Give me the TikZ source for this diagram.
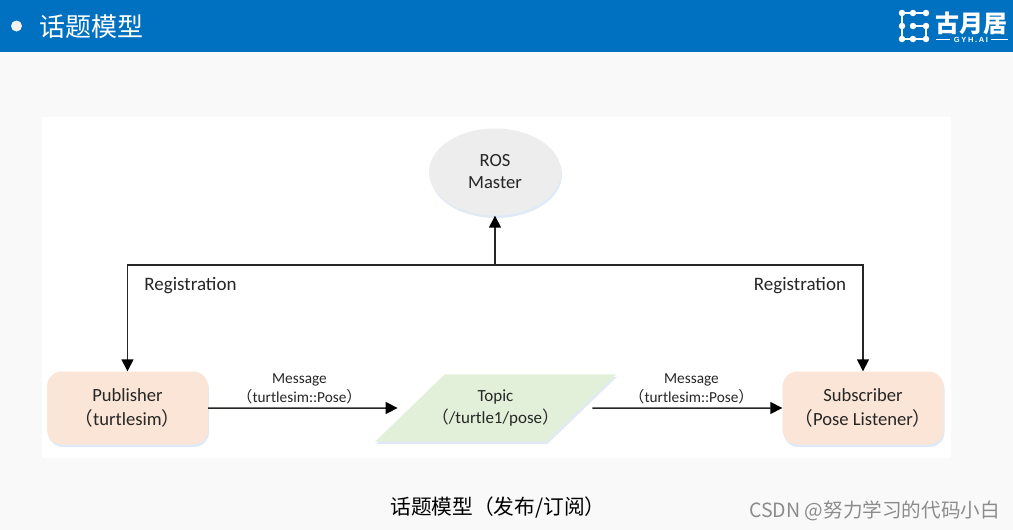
\documentclass[tikz,border=0pt]{standalone}
\usepackage{fontspec}
\setmainfont{Carlito}
\newfontfamily\cjk{Noto Sans CJK SC}
\newfontfamily\logofont[LetterSpace=22]{Liberation Sans}
\usetikzlibrary{shapes.geometric,shadows,arrows.meta}
\definecolor{barblue}{HTML}{0070C0}
\definecolor{pagebg}{HTML}{F9F9F9}
\definecolor{peach}{HTML}{FBE5D6}
\definecolor{leaf}{HTML}{E2F0D9}
\definecolor{mastergrey}{HTML}{EDEDED}
\definecolor{softblue}{HTML}{E0EAF6}
\definecolor{ink}{HTML}{262626}
\tikzset{
  softshadow/.style={drop shadow={shadow xshift=1pt,shadow yshift=-2.5pt,opacity=1,fill=softblue}},
  rolebox/.style={rounded corners=15pt,fill=peach,minimum width=161pt,minimum height=73pt,softshadow,
    align=center,font=\fontsize{18.6}{24}\selectfont,text=ink,inner sep=0pt},
  masternode/.style={ellipse,fill=mastergrey,minimum width=132pt,minimum height=87pt,softshadow,inner sep=0pt,
    align=center,font=\fontsize{18.6}{22}\selectfont,text=ink},
  topicnode/.style={trapezium,trapezium left angle=44,trapezium right angle=136,trapezium stretches body=true,
    fill=leaf,softshadow,inner xsep=-13pt,inner ysep=15.5pt,
    align=center,font=\fontsize{17}{22}\selectfont,text=ink},
  link/.style={draw=black!85,line width=1.5pt,-{Triangle[length=12pt,width=12pt,color=black]}},
  reglabel/.style={font=\fontsize{19}{22}\selectfont,text=ink,inner sep=0pt},
  msglabel/.style={align=center,font=\fontsize{15.3}{19}\selectfont,text=ink,inner sep=0pt},
  logodot/.style={circle,fill=white,minimum size=6.5pt,inner sep=0pt},
  logobar/.style={draw=white,line width=2.2pt}
}
\begin{document}
\begin{tikzpicture}[x=1pt,y=-1pt]
\useasboundingbox (0,0) rectangle (1013,530);
\fill[pagebg] (0,0) rectangle (1013,530);
\fill[barblue] (0,0) rectangle (1013,52);
\fill[white] (42,117) rectangle (951,458);
\fill[white!95!black] (16.5,26) circle (5.5pt);
\node[anchor=west,text=white,inner sep=0pt,font=\cjk\fontsize{26}{30}\selectfont] (title) at (39,27) {话题模型};
% logo
\node[logodot] (d1) at (902,13) {};
\node[logodot] (d2) at (913,13) {};
\node[logodot] (d3) at (926,13) {};
\node[logodot] (d4) at (902,26) {};
\node[logodot] (d5) at (913,26) {};
\node[logodot] (d6) at (926,26) {};
\node[logodot] (d7) at (902,39) {};
\node[logodot] (d8) at (913,39) {};
\node[logodot] (d9) at (926,39) {};
\draw[logobar] (d1) -- (d2) -- (d3);
\draw[logobar] (d1) -- (d7) -- (d9) -- (d6) -- (d5);
\node[text=white,inner sep=0pt,font=\cjk\bfseries\fontsize{24}{26}\selectfont] (logotext) at (971,23) {古月居};
\node[text=white,inner sep=0pt,font=\logofont\bfseries\fontsize{7.5}{8}\selectfont] (logosub) at (971,39.5) {GYH.AI};
\coordinate (logoa) at (936,39.5);
\coordinate (logob) at (1008,39.5);
\draw[white,line width=0.8pt] (logoa) -- ([xshift=-4pt]logosub.west);
\draw[white,line width=0.8pt] ([xshift=3pt]logosub.east) -- (logob);
% diagram
\node[masternode] (master) at (495,172) {ROS\\Master};
\node[rolebox] (pub) at (127.5,408) {\raisebox{-0.5pt}{Publisher}\\\raisebox{-0.5pt}{{\cjk（}turtlesim{\cjk）}}};
\node[rolebox] (sub) at (863,408) {\raisebox{-0.5pt}{Subscriber}\\\raisebox{-0.5pt}{{\cjk（}Pose Listener{\cjk）}}};
\node[topicnode] (topic) at (495.5,408) {Topic\\{\cjk（}/turtle1/pose{\cjk）}};
\coordinate (bus) at (495,265);
\draw[link] (bus) -- (master.south);
\draw[link] (bus) -| (pub.north);
\draw[link] (bus) -| (sub.north);
\draw[link,shorten >=12pt] (pub.east) -- (topic.west);
\draw[link,shorten <=11pt] (topic.east) -- (sub.west);
\node[reglabel] (regl) at (190.5,285.5) {Registration};
\node[reglabel] (regr) at (800,285.5) {Registration};
\node[msglabel] (msgl) at (299.5,389) {Message\\{\cjk（}turtlesim::Pose{\cjk）}};
\node[msglabel] (msgr) at (691.5,389) {Message\\{\cjk（}turtlesim::Pose{\cjk）}};
\node[inner sep=0pt,font=\cjk\fontsize{20.7}{24}\selectfont] (caption) at (498,507.5) {话题模型（发布/订阅）};
\node[anchor=east,inner sep=0pt,text=black!45,font=\cjk\fontsize{19.6}{22}\selectfont] (mark) at (1000,511) {CSDN @努力学习的代码小白};
\end{tikzpicture}
\end{document}
